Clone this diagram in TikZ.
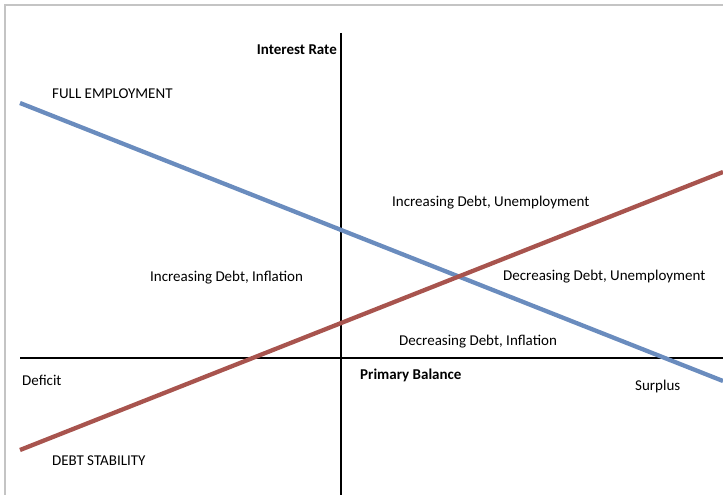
\documentclass[tikz,border=0pt]{standalone}
\usepackage{fontspec}
\setmainfont{Carlito}
\begin{document}
\begin{tikzpicture}[x=1pt,y=-1pt,
  lbl/.style={anchor=west,inner sep=0pt,font=\fontsize{15}{17}\selectfont},
  axis/.style={draw=black,line width=2pt},
  curve/.style={line width=4.3pt}]
\definecolor{fullblue}{RGB}{106,140,190}
\definecolor{debtred}{RGB}{168,84,78}
\definecolor{framegray}{RGB}{196,196,196}
\useasboundingbox (0,0) rectangle (723,495);
% frame edges
\draw[framegray,line width=1.5pt] (5,495) -- (5,5) -- (723,5);
% axes
\coordinate (yTop) at (341,33);
\coordinate (yBot) at (341,495);
\coordinate (xL) at (20,357.5);
\coordinate (xR) at (723,357.5);
\draw[axis] (yTop) -- (yBot);
\draw[axis] (xL) -- (xR);
% schedules
\coordinate (feL) at (20,103);
\coordinate (feR) at (723,381);
\coordinate (dsL) at (20,450);
\coordinate (dsR) at (723,172);
\draw[curve,fullblue] (feL) -- (feR);
\draw[curve,debtred] (dsL) -- (dsR);
% labels
\node[lbl,anchor=east,font=\fontsize{15}{17}\selectfont\bfseries] (ir) at (337,50) {Interest Rate};
\node[lbl] (fe) at (52,93.5) {FULL EMPLOYMENT};
\node[lbl] (idu) at (392,203) {Increasing Debt, Unemployment};
\node[lbl] (idi) at (150,278) {Increasing Debt, Inflation};
\node[lbl] (ddu) at (503,276.5) {Decreasing Debt, Unemployment};
\node[lbl] (ddi) at (399,341.5) {Decreasing Debt, Inflation};
\node[lbl] (def) at (22,380) {Deficit};
\node[lbl,font=\fontsize{15}{17}\selectfont\bfseries] (pb) at (360,375.5) {Primary Balance};
\node[lbl] (sur) at (635,386.5) {Surplus};
\node[lbl] (ds) at (52,461) {DEBT STABILITY};
\end{tikzpicture}
\end{document}
